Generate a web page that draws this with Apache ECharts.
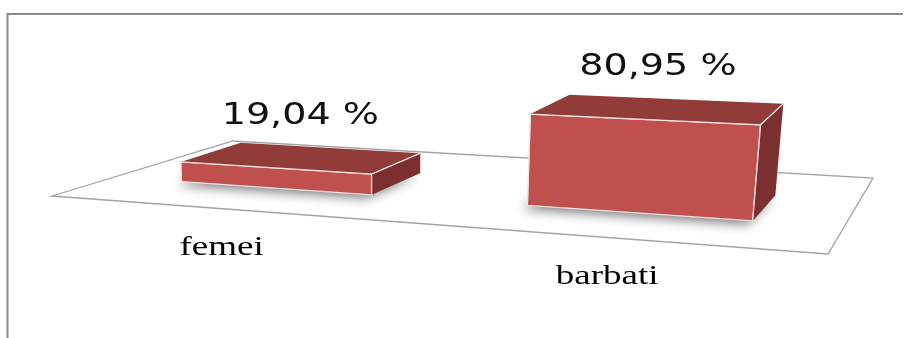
<!DOCTYPE html>
<html>
<head>
<meta charset="utf-8">
<script src="https://cdn.jsdelivr.net/npm/echarts@6/dist/echarts.min.js"></script>
<style>html,body{margin:0;padding:0;background:#fff}#c{width:904px;height:338px}</style>
</head>
<body>
<div id="c"></div>
<script>
const categories = ['femei', 'barbati'];
const values = [19.04, 80.95];
const valueLabels = ['19,04 %', '80,95 %'];

// floor quad (front-left, front-right, back-right, back-left) in screen px
const FLOOR = [[52, 196], [828, 254], [873, 178], [233, 141]];
function makeHomography(p0, p1, p2, p3) {
  const dx1 = p1[0] - p2[0], dx2 = p3[0] - p2[0], dx3 = p0[0] - p1[0] + p2[0] - p3[0];
  const dy1 = p1[1] - p2[1], dy2 = p3[1] - p2[1], dy3 = p0[1] - p1[1] + p2[1] - p3[1];
  const den = dx1 * dy2 - dx2 * dy1;
  const g = (dx3 * dy2 - dx2 * dy3) / den, h = (dx1 * dy3 - dx3 * dy1) / den;
  const a = p1[0] - p0[0] + g * p1[0], b = p3[0] - p0[0] + h * p3[0], c = p0[0];
  const d = p1[1] - p0[1] + g * p1[1], e = p3[1] - p0[1] + h * p3[1], f = p0[1];
  return function (u, v) {
    const w = g * u + h * v + 1;
    return { x: (a * u + b * v + c) / w, y: (d * u + e * v + f) / w, w: w };
  };
}
const ground = makeHomography(FLOOR[0], FLOOR[1], FLOOR[2], FLOOR[3]);
function project(u, v, hv) {
  const g = ground(u, v);
  const h = hv / g.w * (1 + 0.1 * (v - 0.3));
  return [g.x + h * (g.x - 383) / 4500, g.y - h];
}
const V0 = 0.30, V1 = 0.65;

function renderItem(params, api) {
  const cs = params.coordSys;
  const i = api.value(0);
  const val = api.value(1);
  const base = api.coord([i, 0]);
  const topPt = api.coord([i, val]);
  const hv = base[1] - topPt[1];
  const tc = (base[0] - cs.x) / cs.width;
  const hw = api.size([1, 0])[0] / cs.width * 0.285;
  const u0 = tc - hw, u1 = tc + hw;
  const fbl = project(u0, V0, 0), fbr = project(u1, V0, 0);
  const ftl = project(u0, V0, hv), ftr = project(u1, V0, hv);
  const bbl = project(u0, V1, 0), bbr = project(u1, V1, 0);
  const btl = project(u0, V1, hv), btr = project(u1, V1, hv);
  const topCx = (ftl[0] + ftr[0] + btl[0] + btr[0]) / 4;
  const topCy = (ftl[1] + ftr[1] + btl[1] + btr[1]) / 4;
  const catPt = ground(tc, 0);
  const edge = { stroke: '#f6e4e3', lineWidth: 1.3 };
  return {
    type: 'group',
    children: [
      { type: 'polygon', shape: { points: [fbl, fbr, bbr, bbl] },
        style: { fill: '#999', shadowBlur: 12, shadowColor: 'rgba(0,0,0,0.55)', shadowOffsetX: -5, shadowOffsetY: 3 } },
      { type: 'polygon', shape: { points: [fbl, fbr, ftr, ftl] },
        style: { fill: '#C0504D', stroke: '#f6e4e3', lineWidth: 1.2 } },
      { type: 'polygon', shape: { points: [ftl, ftr, btr, btl] },
        style: { fill: '#923C3A' } },
      { type: 'polygon', shape: { points: [fbr, bbr, btr, ftr] },
        style: { fill: '#7B2F2E' } },
      { type: 'polyline', shape: { points: [fbl, ftl, ftr, fbr] }, style: Object.assign({ fill: null }, edge) },
      { type: 'line', shape: { x1: ftr[0], y1: ftr[1], x2: btr[0], y2: btr[1] }, style: edge },
      { type: 'text', x: topCx - 3, y: topCy - 42, scaleX: 1.27,
        style: { text: valueLabels[i], x: 0, y: 0, align: 'center', verticalAlign: 'middle',
                 font: '30px "DejaVu Sans"', fill: '#111' } },
      { type: 'text', x: catPt.x + 1, y: catPt.y + 39, scaleX: 1.37,
        style: { text: categories[i], x: 0, y: 0, align: 'center', verticalAlign: 'middle',
                 font: '27px "Liberation Serif"', fill: '#000' } }
    ]
  };
}

const chart = echarts.init(document.getElementById('c'));
chart.setOption({
  animation: false,
  backgroundColor: '#fff',
  grid: { left: 0, right: 0, top: 0, height: 109 },
  xAxis: { type: 'category', data: categories, show: false },
  yAxis: { type: 'value', min: 0, max: 100, show: false },
  graphic: [
    { type: 'polygon', z: 0, shape: { points: FLOOR }, style: { fill: '#fff', stroke: '#a3a3a3', lineWidth: 1.3 } },
    { type: 'line', z: 0, shape: { x1: 7, y1: 14, x2: 903, y2: 14 }, style: { stroke: '#8a8a8a', lineWidth: 2 } },
    { type: 'line', z: 0, shape: { x1: 7.5, y1: 13, x2: 7.5, y2: 338 }, style: { stroke: '#8a8a8a', lineWidth: 2 } }
  ],
  series: [{
    type: 'custom',
    z: 5,
    renderItem: renderItem,
    data: values.map((v, i) => [i, v])
  }]
});
</script>
</body>
</html>
